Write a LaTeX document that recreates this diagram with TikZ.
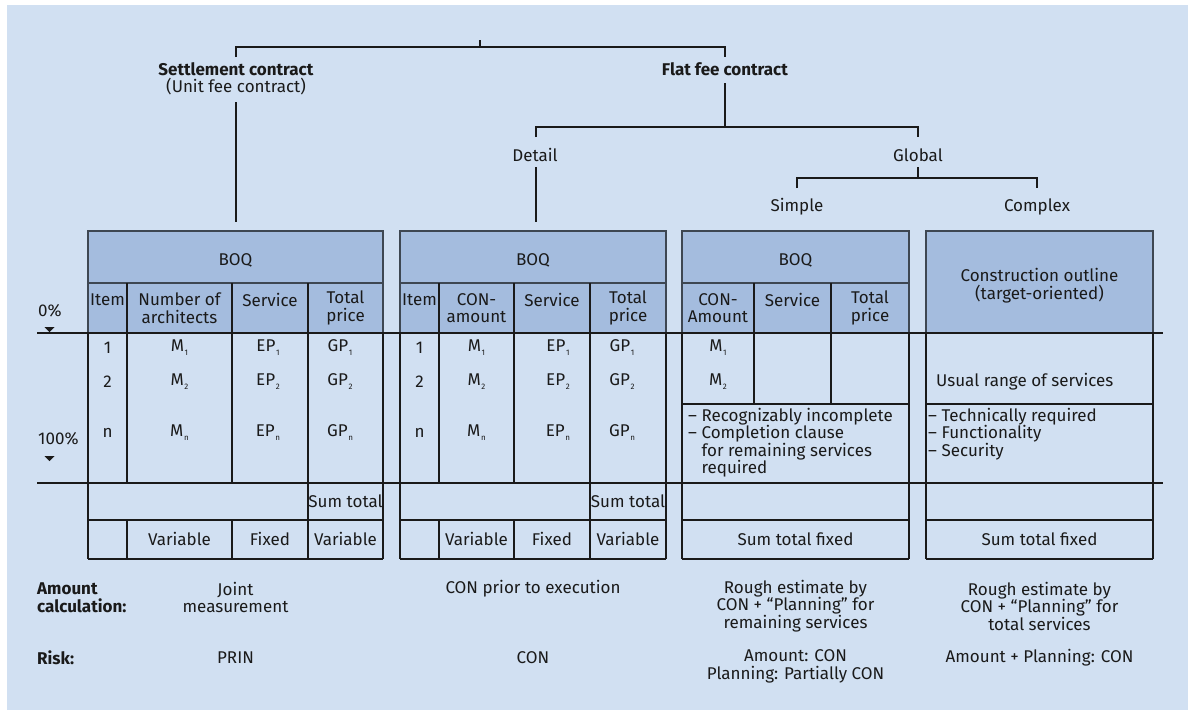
\documentclass[tikz,border=0pt]{standalone}
\usepackage{fontspec}
\setmainfont{Fira Sans}
\definecolor{bg}{HTML}{D1E0F2}
\definecolor{hd}{HTML}{A4BCDE}
\definecolor{hb}{HTML}{3E4752}
\definecolor{dk}{HTML}{1A1A1A}
\newcommand\idx[2]{#1\kern0.6pt\raisebox{-4pt}{\fontsize{8}{8}\selectfont #2}}
\begin{document}
\begin{tikzpicture}[x=1pt,y=-1pt,
  t/.style={font=\fontsize{17}{17.5}\selectfont, inner sep=0pt, align=center, text=dk},
  tl/.style={t, align=left},
  hdr/.style={fill=hd, draw=hb, line width=1.5pt},
  ln/.style={draw=dk, line width=1.6pt},
  tree/.style={draw=dk, line width=1.6pt}]
\useasboundingbox (0,0) rectangle (1188,710);
\fill[bg] (7,5) rectangle (1188,710);

% ---------- tree ----------
\coordinate (root) at (480,40);
\node[t] (sett) at (236,79) {\textbf{Settlement contract}\\(Unit fee contract)};
\node[t] (flat) at (725,69) {\textbf{Flat fee contract}};
\node[t] (detail) at (535,155) {Detail};
\node[t] (global) at (918,155) {Global};
\node[t] (simple) at (797,207) {Simple};
\node[t] (complex) at (1037,207) {Complex};
\coordinate (b1) at (480,47);
\coordinate (t1) at (236,222);
\coordinate (t2) at (536,222);
\draw[tree] (root) -- (b1);
\draw[tree] (236,57) -- (236,47) -- (725,47) -- (725,57);
\draw[tree] (sett.south |- 0,102) -- (t1);
\draw[tree] (flat.south |- 0,83) -- (flat.south |- 0,127);
\draw[tree] (536,137) -- (536,127) -- (global.north |- 0,127) -- (global.north |- 0,137);
\draw[tree] (536,167) -- (t2);
\draw[tree] (global.south |- 0,167) -- (global.south |- 0,178);
\draw[tree] (simple.north |- 0,188) -- (simple.north |- 0,178) -- (complex.north |- 0,178) -- (complex.north |- 0,188);

% ---------- header fills ----------
\filldraw[hdr] (88,231) rectangle (383,333);
\filldraw[hdr] (400,231) rectangle (666,333);
\filldraw[hdr] (682,231) rectangle (909,333);
\filldraw[hdr] (926,231) rectangle (1153,333);
\draw[hb, line width=1.5pt] (88,283) -- (383,283) (400,283) -- (666,283) (682,283) -- (909,283);

% ---------- table 1 ----------
\draw[ln] (127,283)--(127,483) (232,283)--(232,483) (308,283)--(308,559);
\draw[ln] (127,520)--(127,559) (232,520)--(232,559);
\draw[ln] (88,333)--(88,559) (383,333)--(383,559);
\draw[ln] (88,520)--(383,520) (88,559)--(383,559);
% ---------- table 2 ----------
\draw[ln] (439,283)--(439,483) (514,283)--(514,483) (590,283)--(590,559);
\draw[ln] (439,520)--(439,559) (514,520)--(514,559);
\draw[ln] (400,333)--(400,559) (666,333)--(666,559);
\draw[ln] (400,520)--(666,520) (400,559)--(666,559);
% ---------- table 3 ----------
\draw[ln] (754,283)--(754,404) (831,283)--(831,404);
\draw[ln] (682,333)--(682,559) (909,333)--(909,559);
\draw[ln] (682,404)--(909,404) (682,520)--(909,520) (682,559)--(909,559);
% ---------- table 4 ----------
\draw[ln] (926,333)--(926,559) (1153,333)--(1153,559);
\draw[ln] (926,404)--(1153,404) (926,520)--(1153,520) (926,559)--(1153,559);
% ---------- full width lines ----------
\draw[ln] (37,333) -- (1163,333);
\draw[ln] (37,483) -- (1163,483);

% ---------- scale markers ----------
\node[tl, anchor=west] (p0) at (38,311) {0\%};
\node[tl, anchor=west] (p100) at (38,439) {100\%};
\fill[dk] (44.5,327) -- (54.5,327) -- (49.5,332) -- cycle;
\fill[dk] (44.5,456) -- (54.5,456) -- (49.5,461) -- cycle;

% ---------- table 1 text ----------
\node[t] (a0) at (235.5,260) {BOQ};
\node[t] (a1) at (107.5,300) {Item};
\node[t] (a2) at (179.5,308) {Number of\\architects};
\node[t] (a3) at (270,300) {Service};
\node[t] (a4) at (345.5,308) {Total\\price};
\node[t] (a11) at (107.5,348) {1};
\node[t] (a21) at (107.5,382) {2};
\node[t] (a31) at (107.5,433) {n};
\node[t] (a12) at (179.5,348) {\idx{M}{1}};
\node[t] (a22) at (179.5,382) {\idx{M}{2}};
\node[t] (a32) at (179.5,433) {\idx{M}{n}};
\node[t] (a13) at (268,348) {\idx{EP}{1}};
\node[t] (a23) at (268,382) {\idx{EP}{2}};
\node[t] (a33) at (268,433) {\idx{EP}{n}};
\node[t] (a14) at (340,348) {\idx{GP}{1}};
\node[t] (a24) at (340,382) {\idx{GP}{2}};
\node[t] (a34) at (340,433) {\idx{GP}{n}};
\node[t] (as) at (345.5,501) {Sum total};
\node[t] (av1) at (179.5,539) {Variable};
\node[t] (av2) at (270,539) {Fixed};
\node[t] (av3) at (345.5,539) {Variable};

% ---------- table 2 text ----------
\node[t] (b0) at (533,260) {BOQ};
\node[t] (bh1) at (419.5,300) {Item};
\node[t] (bh2) at (476.5,308) {CON-\\amount};
\node[t] (bh3) at (552,300) {Service};
\node[t] (bh4) at (628,308) {Total\\price};
\node[t] (b11) at (419.5,348) {1};
\node[t] (b21) at (419.5,382) {2};
\node[t] (b31) at (419.5,433) {n};
\node[t] (b12) at (476.5,348) {\idx{M}{1}};
\node[t] (b22) at (476.5,382) {\idx{M}{2}};
\node[t] (b32) at (476.5,433) {\idx{M}{n}};
\node[t] (b13) at (558,348) {\idx{EP}{1}};
\node[t] (b23) at (558,382) {\idx{EP}{2}};
\node[t] (b33) at (558,433) {\idx{EP}{n}};
\node[t] (b14) at (622,348) {\idx{GP}{1}};
\node[t] (b24) at (622,382) {\idx{GP}{2}};
\node[t] (b34) at (622,433) {\idx{GP}{n}};
\node[t] (bs) at (628,501) {Sum total};
\node[t] (bv1) at (476.5,539) {Variable};
\node[t] (bv2) at (552,539) {Fixed};
\node[t] (bv3) at (628,539) {Variable};

% ---------- table 3 text ----------
\node[t] (c0) at (795.5,260) {BOQ};
\node[t] (ch1) at (718,308) {CON-\\Amount};
\node[t] (ch2) at (792.5,300) {Service};
\node[t] (ch3) at (870,308) {Total\\price};
\node[t] (c12) at (718,348) {\idx{M}{1}};
\node[t] (c22) at (718,382) {\idx{M}{2}};
\node[tl, anchor=north west] (cl) at (688,408) {– Recognizably incomplete\\– Completion clause\\\phantom{– }for remaining services\\\phantom{– }required};
\node[t] (cs) at (795.5,539) {Sum total fixed};

% ---------- table 4 text ----------
\node[t] (d0) at (1039.5,285.5) {Construction outline\\(target-oriented)};
\node[tl, anchor=west] (du) at (936,382) {Usual range of services};
\node[tl, anchor=north west] (dl) at (928,408) {– Technically required\\– Functionality\\– Security};
\node[t] (ds) at (1039.5,539) {Sum total fixed};

% ---------- bottom rows ----------
\node[tl, anchor=west] (lam) at (37,597.5) {\textbf{Amount}\\\textbf{calculation:}};
\node[t] (am1) at (235.5,597.5) {Joint\\measurement};
\node[t] (am2) at (533,589) {CON prior to execution};
\node[t] (am3) at (795.5,606) {Rough estimate by\\CON + “Planning” for\\remaining services};
\node[t] (am4) at (1039.5,606) {Rough estimate by\\CON + “Planning” for\\total services};
\node[tl, anchor=west] (lrisk) at (37,658) {\textbf{Risk:}};
\node[t] (r1) at (235.5,658) {PRIN};
\node[t] (r2) at (533,658) {CON};
\node[t] (r3) at (795.5,666.5) {Amount: CON\\Planning: Partially CON};
\node[t] (r4) at (1039.5,658) {Amount + Planning: CON};
\end{tikzpicture}
\end{document}
